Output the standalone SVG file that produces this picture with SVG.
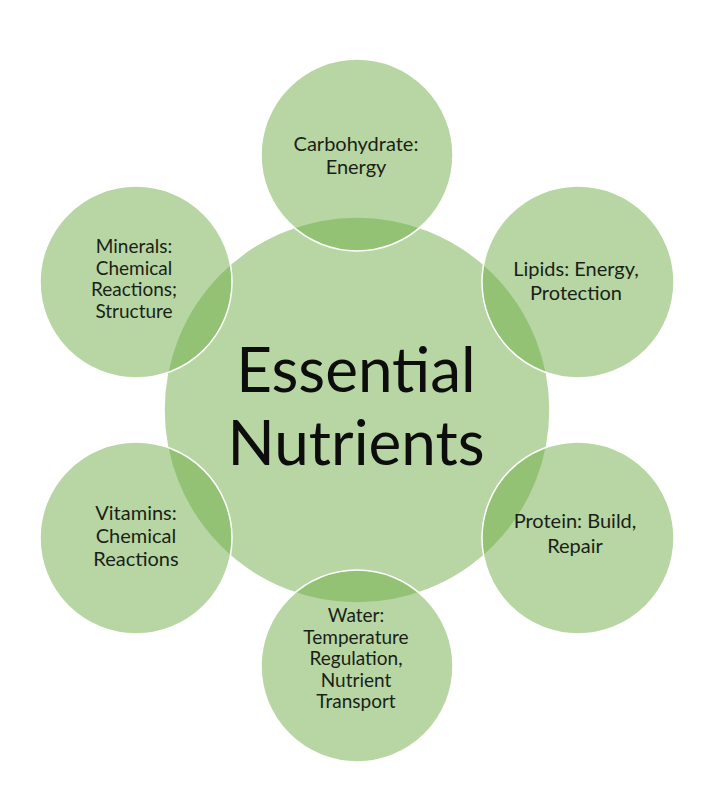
<svg xmlns="http://www.w3.org/2000/svg" width="720" height="810" viewBox="0 0 720 810">
<style>
.c{fill:#70AD47;fill-opacity:0.5;stroke:#ffffff;stroke-width:1.5}
.t{font-family:Lato,"Liberation Sans",sans-serif;font-size:20px;fill:#1a1f18;text-anchor:middle}
.s{font-size:19px}
.big{font-family:Lato,"Liberation Sans",sans-serif;font-size:62px;fill:#0d0d0d;text-anchor:middle}
</style>
<rect width="720" height="810" fill="#ffffff"/>
<g id="center">
<circle class="c" cx="357" cy="410" r="193"/>
</g>
<g id="carbohydrate">
<circle class="c" cx="357" cy="155" r="96"/>
<text class="t" x="356" y="151">Carbohydrate:</text>
<text class="t" x="356" y="174">Energy</text>
</g>
<g id="lipids">
<circle class="c" cx="578" cy="282" r="96"/>
<text class="t" x="576" y="276">Lipids: Energy,</text>
<text class="t" x="576" y="300">Protection</text>
</g>
<g id="protein">
<circle class="c" cx="578" cy="538" r="96"/>
<text class="t" x="575" y="528">Protein: Build,</text>
<text class="t" x="575" y="553">Repair</text>
</g>
<g id="water">
<circle class="c" cx="357" cy="666" r="96"/>
<text class="t s" x="356" y="622">Water:</text>
<text class="t s" x="356" y="643.5">Temperature</text>
<text class="t s" x="356" y="665">Regulation,</text>
<text class="t s" x="356" y="686.5">Nutrient</text>
<text class="t s" x="356" y="708">Transport</text>
</g>
<g id="vitamins">
<circle class="c" cx="136" cy="538" r="96"/>
<text class="t" x="136" y="520">Vitamins:</text>
<text class="t" x="136" y="543">Chemical</text>
<text class="t" x="136" y="566">Reactions</text>
</g>
<g id="minerals">
<circle class="c" cx="136" cy="282" r="96"/>
<text class="t s" x="134" y="253">Minerals:</text>
<text class="t s" x="134" y="274.5">Chemical</text>
<text class="t s" x="134" y="296">Reactions;</text>
<text class="t s" x="134" y="317.5">Structure</text>
</g>
<g id="center-label">
<text class="big" x="356" y="392">Essential</text>
<text class="big" x="356" y="465">Nutrients</text>
</g>
</svg>
